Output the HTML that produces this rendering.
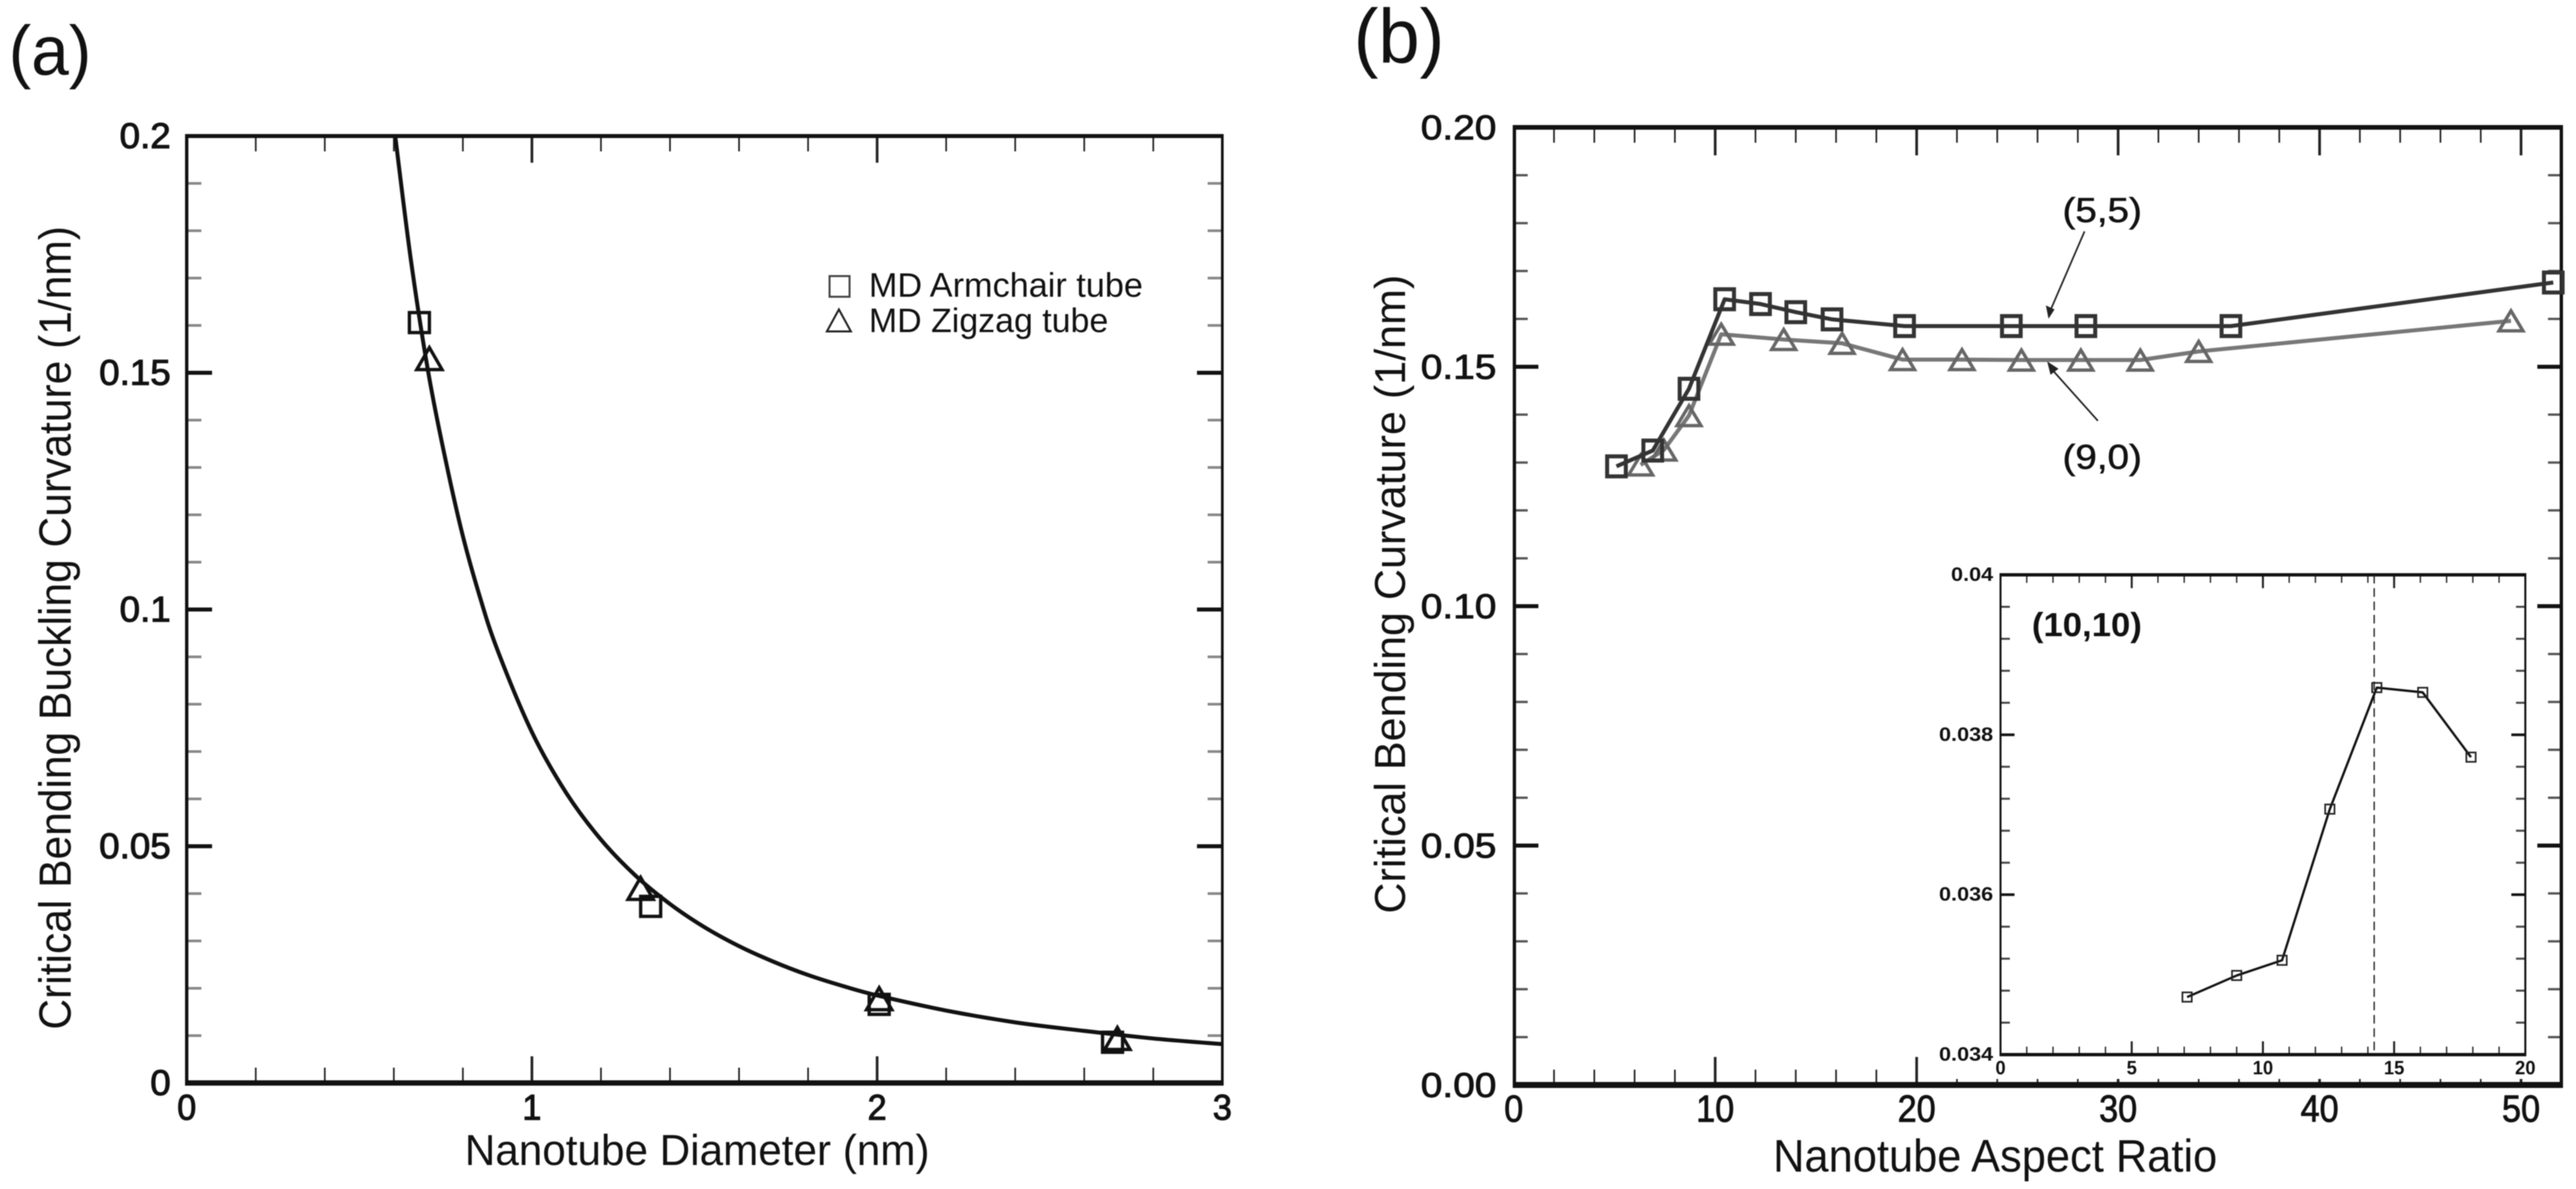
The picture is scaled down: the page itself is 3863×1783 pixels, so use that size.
<!DOCTYPE html>
<html lang="en">
<head>
<meta charset="utf-8">
<title>Critical bending curvature of nanotubes</title>
<style>
html,body{margin:0;padding:0;background:#fff;width:3863px;height:1783px;overflow:hidden}
svg{display:block;filter:blur(.7px)}
text{font-family:"Liberation Sans",sans-serif;fill:#111}
</style>
</head>
<body>
<svg id="figure" xmlns="http://www.w3.org/2000/svg" width="3863" height="1783" viewBox="0 0 3863 1783">
  <rect width="3863" height="1783" fill="#fff"/>
  <text x="13" y="112" font-size="105" textLength="124" lengthAdjust="spacingAndGlyphs">(a)</text>
  <text x="2030" y="94" font-size="115" textLength="136" lengthAdjust="spacingAndGlyphs">(b)</text>

  <g id="panelA"></g>
  <text transform="translate(106 1544) rotate(-90)" font-size="68" fill="#222" textLength="1205" lengthAdjust="spacingAndGlyphs">Critical Bending Buckling Curvature (1/nm)</text>
  <text x="697" y="1747" font-size="65" textLength="697" lengthAdjust="spacingAndGlyphs">Nanotube Diameter (nm)</text>
  <g>
    <rect x="1244" y="414" width="30" height="31" fill="none" stroke="#444" stroke-width="3"/>
    <text x="1303" y="445" font-size="51" textLength="411" lengthAdjust="spacingAndGlyphs">MD Armchair tube</text>
    <polygon points="1258,464 1276,497 1240,497" fill="none" stroke="#222" stroke-width="3"/>
    <text x="1303" y="498" font-size="51" textLength="359" lengthAdjust="spacingAndGlyphs">MD Zigzag tube</text>
  </g>

  <g id="panelB"></g>
  <text transform="translate(2107 1370) rotate(-90)" font-size="65" fill="#222" textLength="958" lengthAdjust="spacingAndGlyphs">Critical Bending Curvature (1/nm)</text>
  <text x="2659" y="1757" font-size="69" textLength="666" lengthAdjust="spacingAndGlyphs">Nanotube Aspect Ratio</text>
  <text x="3093" y="333" font-size="52" textLength="119" lengthAdjust="spacingAndGlyphs" stroke="#111" stroke-width=".8">(5,5)</text>
  <text x="3093" y="703" font-size="52" textLength="119" lengthAdjust="spacingAndGlyphs" stroke="#111" stroke-width=".8">(9,0)</text>
  <g fill="#222" stroke="#222">
    <line x1="3126" y1="347" x2="3075" y2="465" stroke-width="2.5"/>
    <polygon points="3072,478 3068,458 3081,464" stroke="none"/>
  </g>
  <g fill="#222" stroke="#222">
    <line x1="3146" y1="631" x2="3078" y2="555" stroke-width="2.5"/>
    <polygon points="3070,542 3087,553 3075,562" stroke="none"/>
  </g>

  <rect x="2890" y="840" width="910" height="778" fill="#fff"/>
  <g id="panelInset"></g>
  <text x="3047" y="954" font-size="50" font-weight="bold" textLength="165" lengthAdjust="spacingAndGlyphs">(10,10)</text>
</svg>

<script>
// Panel (a): nanotube diameter vs. critical bending buckling curvature
const aXTickLabels = ['0', '1', '2', '3'];
const aYTickLabels = ['0', '0.05', '0.1', '0.15', '0.2'];
const aCurveDiameter = [0.604, 0.65, 0.7, 0.75, 0.8, 0.85, 0.9, 1.0, 1.1, 1.2, 1.3, 1.4, 1.5, 1.6, 1.7, 1.8, 1.9, 2.0, 2.2, 2.4, 2.6, 2.8, 3.0];
const aCurveValue = [0.2, 0.1735, 0.15, 0.1315, 0.1155, 0.1025, 0.0915, 0.0741, 0.0612, 0.0514, 0.0438, 0.0378, 0.0329, 0.0289, 0.0256, 0.0228, 0.0205, 0.0185, 0.0153, 0.0128, 0.011, 0.0094, 0.0082];
const aArmchairDiameter = [0.674, 1.344, 2.006, 2.682];
const aArmchairValue = [0.1606, 0.0373, 0.0166, 0.0086];
const aZigzagDiameter = [0.703, 1.315, 2.006, 2.696];
const aZigzagValue = [0.153, 0.0411, 0.0178, 0.0094];

// Panel (b): aspect ratio vs. critical bending curvature
const bXTickLabels = ['0', '10', '20', '30', '40', '50'];
const bYTickLabels = ['0.00', '0.05', '0.10', '0.15', '0.20'];
const b55Ratio = [5.1, 6.9, 8.7, 10.47, 12.25, 14.0, 15.8, 19.4, 24.7, 28.4, 35.6, 51.6];
const b55Value = [0.1292, 0.1325, 0.1454, 0.1641, 0.1631, 0.1614, 0.1599, 0.1585, 0.1585, 0.1585, 0.1585, 0.1676];
const b90Ratio = [6.3, 7.45, 8.7, 10.3, 13.4, 16.3, 19.3, 22.25, 25.2, 28.15, 31.1, 34.0, 49.5];
const b90Value = [0.1295, 0.1326, 0.1398, 0.1568, 0.1557, 0.1549, 0.1515, 0.1515, 0.1514, 0.1514, 0.1514, 0.1532, 0.1596];

// Inset: (10,10) tube
const insetXTickLabels = ['0', '5', '10', '15', '20'];
const insetYTickLabels = ['0.034', '0.036', '0.038', '0.04'];
const insetRatio = [7.11, 9.0, 10.73, 12.55, 14.34, 16.09, 17.93];
const insetValue = [0.03472, 0.03499, 0.03518, 0.03707, 0.03859, 0.03853, 0.03772];
const insetCriticalRatio = [14.24];

const SVG_NS = 'http://www.w3.org/2000/svg';

function linear(d0, d1, r0, r1) {
  return function (v) { return r0 + (v - d0) * (r1 - r0) / (d1 - d0); };
}

function add(parent, tag, attrs, name, content) {
  const el = document.createElementNS(SVG_NS, tag);
  for (const k in attrs) el.setAttribute(k, attrs[k]);
  
  
  if (content !== undefined) el.textContent = content;
  parent.appendChild(el);
  return el;
}

function naturalWidth(s, size) {
  let w = 0;
  for (const c of s) w += c === '.' ? 0.278 : 0.556;
  return w * size;
}

function drawFrame(g, box, widths, color) {
  add(g, 'line', {x1: box.l - widths.l / 2, x2: box.r + widths.r / 2, y1: box.t, y2: box.t, stroke: color, 'stroke-width': widths.t}, 'frame-top');
  add(g, 'line', {x1: box.l - widths.l / 2, x2: box.r + widths.r / 2, y1: box.b, y2: box.b, stroke: color, 'stroke-width': widths.b}, 'frame-bottom');
  add(g, 'line', {x1: box.l, x2: box.l, y1: box.t, y2: box.b, stroke: color, 'stroke-width': widths.l}, 'frame-left');
  add(g, 'line', {x1: box.r, x2: box.r, y1: box.t, y2: box.b, stroke: color, 'stroke-width': widths.r}, 'frame-right');
}

function drawTicks(g, o) {
  const nx = Math.round((o.xMax - o.xMin) / o.xMinor);
  for (let i = 0; i <= nx; i++) {
    const v = o.xMin + i * o.xMinor;
    if (i === 0 || i === nx) continue;
    const major = i % Math.round(o.xMajor / o.xMinor) === 0;
    const len = major ? o.hMajorLen : o.hMinorLen;
    const sw = major ? o.hMajorW : o.hMinorW;
    const x = o.sx(v);
    add(g, 'line', {x1: x, x2: x, y1: o.box.t, y2: o.box.t + len, stroke: '#222', 'stroke-width': sw}, major ? 'top-major-tick' : 'top-minor-tick');
    add(g, 'line', {x1: x, x2: x, y1: o.box.b, y2: o.box.b - len, stroke: '#222', 'stroke-width': sw}, major ? 'bottom-major-tick' : 'bottom-minor-tick');
  }
  const ny = Math.round((o.yMax - o.yMin) / o.yMinor);
  for (let i = 1; i < ny; i++) {
    const v = o.yMin + i * o.yMinor;
    const major = i % Math.round(o.yMajor / o.yMinor) === 0;
    const len = major ? o.vMajorLen : o.vMinorLen;
    const sw = major ? o.vMajorW : o.vMinorW;
    const color = major ? '#111' : o.vMinorColor;
    const y = o.sy(v);
    add(g, 'line', {x1: o.box.l, x2: o.box.l + len, y1: y, y2: y, stroke: color, 'stroke-width': sw}, major ? 'left-major-tick' : 'left-minor-tick');
    add(g, 'line', {x1: o.box.r, x2: o.box.r - len, y1: y, y2: y, stroke: color, 'stroke-width': sw}, major ? 'right-major-tick' : 'right-minor-tick');
  }
}

function drawTickLabels(g, o) {
  o.xLabels.forEach(function (s) {
    add(g, 'text', {x: o.sx(parseFloat(s)), y: o.xLabelY, 'text-anchor': 'middle', 'font-size': o.xFontSize, 'font-family': o.family, 'font-weight': o.weight, stroke: '#111', 'stroke-width': o.textStroke, textLength: naturalWidth(s, o.xFontSize) * o.xStretch, lengthAdjust: 'spacingAndGlyphs'}, 'x-tick-label', s);
  });
  o.yLabels.forEach(function (s) {
    add(g, 'text', {x: o.yLabelX, y: o.sy(parseFloat(s)) + o.yLabelShift, 'text-anchor': 'end', 'font-size': o.yFontSize, 'font-family': o.family, 'font-weight': o.weight, stroke: '#111', 'stroke-width': o.textStroke, textLength: naturalWidth(s, o.yFontSize) * o.yStretch, lengthAdjust: 'spacingAndGlyphs'}, 'y-tick-label', s);
  });
}

function linePath(xs, ys, sx, sy) {
  return xs.map(function (v, i) { return (i ? 'L' : 'M') + sx(v).toFixed(1) + ' ' + sy(ys[i]).toFixed(1); }).join(' ');
}

// Smooth path through the read curve values (Catmull-Rom to Bezier)
function smoothPath(xs, ys, sx, sy) {
  const p = xs.map(function (v, i) { return [sx(v), sy(ys[i])]; });
  let d = 'M' + p[0][0].toFixed(1) + ' ' + p[0][1].toFixed(1);
  for (let i = 0; i < p.length - 1; i++) {
    const a = p[Math.max(i - 1, 0)], b = p[i], c = p[i + 1], e = p[Math.min(i + 2, p.length - 1)];
    const c1 = [b[0] + (c[0] - a[0]) / 6, b[1] + (c[1] - a[1]) / 6];
    const c2 = [c[0] - (e[0] - b[0]) / 6, c[1] - (e[1] - b[1]) / 6];
    d += ' C' + c1[0].toFixed(1) + ' ' + c1[1].toFixed(1) + ' ' + c2[0].toFixed(1) + ' ' + c2[1].toFixed(1) + ' ' + c[0].toFixed(1) + ' ' + c[1].toFixed(1);
  }
  return d;
}

function drawSquares(g, xs, ys, sx, sy, w, h, sw, color, name) {
  xs.forEach(function (v, i) {
    add(g, 'rect', {x: sx(v) - w / 2, y: sy(ys[i]) - h / 2, width: w, height: h, fill: 'none', stroke: color, 'stroke-width': sw}, name);
  });
}

function drawTriangles(g, xs, ys, sx, sy, w, h, sw, color, name) {
  xs.forEach(function (v, i) {
    const x = sx(v), y = sy(ys[i]);
    add(g, 'polygon', {points: x + ',' + (y - h / 2) + ' ' + (x + w / 2) + ',' + (y + h / 2) + ' ' + (x - w / 2) + ',' + (y + h / 2), fill: 'none', stroke: color, 'stroke-width': sw, 'stroke-linejoin': 'miter'}, name);
  });
}

/* Panel (a) */
(function () {
  const g = document.getElementById('panelA');
  const box = {l: 280, r: 1833, t: 204, b: 1624};
  const sx = linear(0, 3, box.l, box.r);
  const sy = linear(0, 0.2, box.b, box.t);
  drawTicks(g, {box, sx, sy, xMin: 0, xMax: 3, xMinor: 0.2, xMajor: 1, yMin: 0, yMax: 0.2, yMinor: 0.01, yMajor: 0.05,
    hMajorLen: 40, hMinorLen: 23, hMajorW: 4, hMinorW: 2.5, vMajorLen: 38, vMinorLen: 22, vMajorW: 6, vMinorW: 4, vMinorColor: '#888'});
  drawFrame(g, box, {t: 6, r: 4, b: 8, l: 5}, '#111');
  drawTickLabels(g, {sx, sy, xLabels: aXTickLabels, yLabels: aYTickLabels, xLabelY: 1679, yLabelX: 256, yLabelShift: 18,
    xFontSize: 54, yFontSize: 54, family: '"Liberation Sans",sans-serif', weight: 'normal', textStroke: 1.5, xStretch: 0.95, yStretch: 1.02});
  add(g, 'path', {d: smoothPath(aCurveDiameter, aCurveValue, sx, sy), fill: 'none', stroke: '#111', 'stroke-width': 6, 'stroke-linejoin': 'round'}, 'fit-curve');
  drawSquares(g, aArmchairDiameter, aArmchairValue, sx, sy, 30, 30, 5, '#111', 'armchair-point');
  drawTriangles(g, aZigzagDiameter, aZigzagValue, sx, sy, 38, 33, 5, '#111', 'zigzag-point');
})();

/* Panel (b) */
(function () {
  const g = document.getElementById('panelB');
  const box = {l: 2271, r: 3841, t: 191, b: 1627};
  const sx = linear(0, 52, 2270, 3841);
  const sy = linear(0, 0.2, box.b, box.t);
  drawTicks(g, {box, sx, sy, xMin: 0, xMax: 52, xMinor: 2, xMajor: 10, yMin: 0, yMax: 0.2, yMinor: 0.01, yMajor: 0.05,
    hMajorLen: 42, hMinorLen: 23, hMajorW: 4, hMinorW: 2.5, vMajorLen: 36, vMinorLen: 20, vMajorW: 6, vMinorW: 3.5, vMinorColor: '#555'});
  drawFrame(g, box, {t: 7, r: 5, b: 9, l: 5}, '#111');
  drawTickLabels(g, {sx, sy, xLabels: bXTickLabels, yLabels: bYTickLabels, xLabelY: 1682, yLabelX: 2244, yLabelShift: 18,
    xFontSize: 57, yFontSize: 52, family: '"Liberation Sans",sans-serif', weight: 'normal', textStroke: 1.2, xStretch: 0.9, yStretch: 1.12});
  add(g, 'path', {d: linePath(b90Ratio, b90Value, sx, sy), fill: 'none', stroke: '#777', 'stroke-width': 6, 'stroke-linejoin': 'round'}, 'series-9-0-line');
  drawTriangles(g, b90Ratio, b90Value, sx, sy, 36, 30, 5, '#666', 'series-9-0-point');
  add(g, 'path', {d: linePath(b55Ratio, b55Value, sx, sy), fill: 'none', stroke: '#333', 'stroke-width': 6, 'stroke-linejoin': 'round'}, 'series-5-5-line');
  drawSquares(g, b55Ratio, b55Value, sx, sy, 28, 30, 6, '#333', 'series-5-5-point');
})();

/* Inset */
(function () {
  const g = document.getElementById('panelInset');
  const box = {l: 3000, r: 3787, t: 862, b: 1581.5};
  const sx = linear(0, 20, box.l, box.r);
  const sy = linear(0.034, 0.04, box.b, box.t);
  drawTicks(g, {box, sx, sy, xMin: 0, xMax: 20, xMinor: 1, xMajor: 5, yMin: 0.034, yMax: 0.04, yMinor: 0.0004, yMajor: 0.002,
    hMajorLen: 20, hMinorLen: 12, hMajorW: 3, hMinorW: 2, vMajorLen: 21, vMinorLen: 14, vMajorW: 4, vMinorW: 3, vMinorColor: '#444'});
  drawFrame(g, box, {t: 5, r: 3, b: 5, l: 3}, '#111');
  drawTickLabels(g, {sx, sy, xLabels: insetXTickLabels, yLabels: insetYTickLabels, xLabelY: 1611, yLabelX: 2989, yLabelShift: 9,
    xFontSize: 29, yFontSize: 29, family: '"Liberation Serif",serif', weight: 'bold', textStroke: 0, xStretch: 0.95, yStretch: 1.12});
  insetCriticalRatio.forEach(function (v) {
    add(g, 'line', {x1: sx(v), x2: sx(v), y1: box.t, y2: box.b, stroke: '#222', 'stroke-width': 2, 'stroke-dasharray': '13 7'}, 'critical-ratio-line');
  });
  add(g, 'path', {d: linePath(insetRatio, insetValue, sx, sy), fill: 'none', stroke: '#111', 'stroke-width': 3.5, 'stroke-linejoin': 'round'}, 'series-10-10-line');
  drawSquares(g, insetRatio, insetValue, sx, sy, 14, 14, 2.5, '#222', 'series-10-10-point');
})();
</script>
</body>
</html>
